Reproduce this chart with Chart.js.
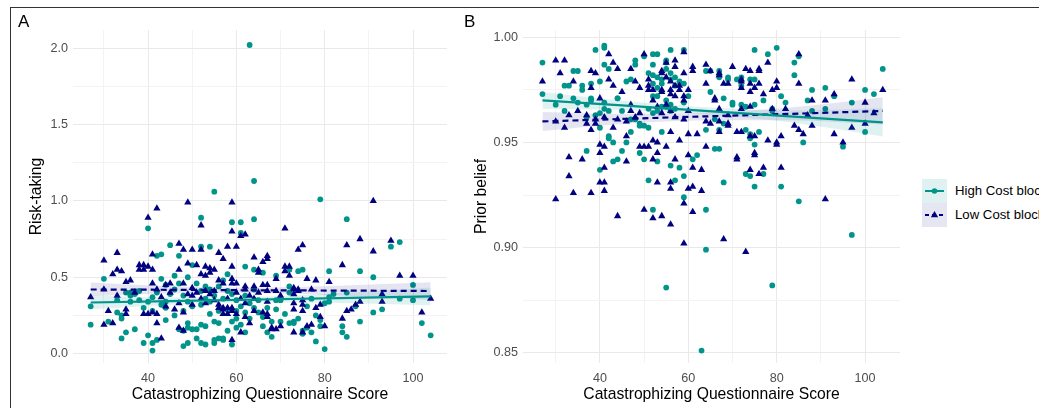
<!DOCTYPE html>
<html>
<head>
<meta charset="utf-8">
<script src="https://cdn.jsdelivr.net/npm/chart.js@4.4.0/dist/chart.umd.min.js"></script>
<style>
  body { margin: 0; background: #fff; width: 1039px; height: 408px; overflow: hidden; position: relative;
         font-family: "Liberation Sans", Arial, sans-serif; }
  #frame { position: absolute; left: 10px; top: 7px; width: 1100px; height: 500px;
           border-top: 1px solid #333; border-left: 1px solid #333; }
  .panel { position: absolute; top: 8px; height: 400px; }
  #pa { left: 11px; width: 449px; }
  #pb { left: 460px; width: 460px; }
  .tag { position: absolute; top: 12px; font-size: 17px; line-height: 20px; color: #000; }
  .key { position: absolute; left: 922px; width: 25px; height: 24px; }
  .lab { position: absolute; left: 955px; font-size: 13.2px; line-height: 24px; color: #000; white-space: nowrap; }
</style>
</head>
<body>
<div id="frame"></div>
<div class="panel" id="pa"><canvas id="chartA"></canvas></div>
<div class="panel" id="pb"><canvas id="chartB"></canvas></div>
<div class="tag" style="left:18px">A</div>
<div class="tag" style="left:464px">B</div>

<div class="key" style="top:179px;background:#e0f1f1">
  <svg width="25" height="24"><line x1="3" y1="12" x2="22" y2="12" stroke="#00948a" stroke-width="2"/><circle cx="12.5" cy="12" r="2.8" fill="#00948a"/></svg>
</div>
<div class="key" style="top:203px;background:#e6e6f2">
  <svg width="25" height="24"><line x1="3" y1="12" x2="22" y2="12" stroke="#000080" stroke-width="2" stroke-dasharray="4,3"/><path d="M12.5 8 L16.2 14.2 L8.8 14.2 Z" fill="#000080"/></svg>
</div>
<div class="lab" style="top:179px">High Cost block</div>
<div class="lab" style="top:203px">Low Cost block</div>

<script>
// ---- tick / grid values ----
const xTickLabels = [40, 60, 80, 100];
const xGrid = [30, 40, 50, 60, 70, 80, 90, 100];
const aYTickLabels = [0, 0.5, 1, 1.5, 2];
const aYGrid = [0, 0.25, 0.5, 0.75, 1, 1.25, 1.5, 1.75, 2];
const bYTickLabels = [0.85, 0.9, 0.95, 1];
const bYGrid = [0.85, 0.875, 0.9, 0.925, 0.95, 0.975, 1];

// ---- panel A: risk-taking, [score, value] ----
const aHigh = [[27,0.31],[27,0.19],[30,0.49],[31,0.21],[33,0.35],[34,0.10],[35,0.14],[35,0.40],[34,0.23],[37,0.16],[36,0.38],[39,0.07],[40,0.82],[40,0.12],[41,0.02],[41,0.07],[42,0.64],[42,0.09],[43,0.65],[43,0.49],[44,0.30],[44,0.22],[45,0.71],[46,0.51],[47,0.64],[47,0.46],[47,0.16],[48,0.05],[49,0.50],[49,0.20],[49,0.07],[50,0.58],[50,0.16],[51,0.10],[52,0.89],[52,0.70],[52,0.07],[53,0.06],[54,0.70],[54,0.42],[55,1.06],[55,0.07],[56,0.10],[56,0.20],[57,0.09],[58,0.29],[59,0.86],[59,0.06],[60,0.17],[61,0.86],[61,0.79],[62,0.57],[62,0.14],[63,2.02],[63,0.23],[64,1.13],[64,0.88],[64,0.55],[65,0.35],[66,0.53],[67,0.14],[68,0.11],[69,0.51],[69,0.29],[70,0.21],[71,0.26],[72,0.55],[72,0.44],[73,0.20],[74,0.23],[75,0.55],[75,0.15],[77,0.14],[78,0.08],[79,1.01],[80,0.03],[81,0.54],[81,0.34],[82,0.39],[84,0.18],[84,0.14],[85,0.88],[85,0.11],[85,0.40],[87,0.31],[88,0.54],[88,0.21],[91,0.50],[91,0.27],[93,0.29],[95,0.70],[97,0.73],[97,0.36],[100,0.45],[100,0.35],[102,0.20],[104,0.12],
  [51,0.46],[52,0.41],[53,0.36],[49,0.34],[52,0.32],[54,0.34],[55,0.38],[58,0.41],[59,0.39],[56,0.28],[55,0.21],[53,0.18],[52,0.19],[51,0.16],[49,0.17],[48,0.15],[58,0.15],[57,0.10],[55,0.09],[61,0.19],[60,0.23],[59,0.21],[48,0.28],[46,0.25],[45,0.39],[43,0.32],[40,0.34],[38,0.35],[37,0.39],[36,0.34],[34,0.25],[33,0.27],[36,0.40],[42,0.40],[44,0.34],
  [74,0.54],[72,0.40],[69,0.35],[67,0.30],[68,0.21],[72,0.20],[73,0.21],[75,0.13],[76,0.17],[79,0.22],[79,0.18],[77,0.36],[78,0.25],[80,0.33],[81,0.37],[76,0.31],[70,0.35],
  [56,0.44],[57,0.48],[58,0.52],[60,0.35],[61,0.31],[62,0.38],[63,0.33],[64,0.42],[65,0.27],[66,0.24],[60,0.28],[57,0.36],[54,0.26],[53,0.44],[50,0.31],[48,0.38],[46,0.42],[44,0.45],[41,0.37],[39,0.30],[38,0.41],[41,0.28],[64,0.30],[66,0.18],[62,0.27]];

const aLow = [[27,0.37],[30,0.61],[30,0.42],[30,0.19],[31,0.28],[32,0.20],[32,0.52],[33,0.66],[33,0.55],[33,0.38],[34,0.54],[35,0.47],[36,0.48],[35,0.29],[35,0.26],[37,0.40],[38,0.58],[38,0.55],[39,0.58],[39,0.55],[39,0.26],[40,0.89],[40,0.57],[40,0.26],[41,0.65],[41,0.55],[41,0.46],[42,0.95],[42,0.42],[42,0.26],[42,0.20],[43,0.10],[44,0.45],[45,0.46],[47,0.72],[47,0.55],[47,0.17],[48,0.68],[48,0.15],[49,0.99],[49,0.59],[50,0.68],[50,0.38],[51,0.58],[51,0.40],[52,0.84],[52,0.68],[52,0.52],[53,0.57],[53,0.51],[54,0.56],[55,0.55],[56,0.66],[56,0.48],[57,0.62],[57,0.30],[58,0.70],[59,0.99],[59,0.80],[59,0.57],[59,0.09],[60,0.70],[60,0.46],[61,0.77],[61,0.14],[62,0.78],[62,0.44],[63,0.20],[64,0.63],[64,0.44],[64,0.28],[65,0.55],[65,0.53],[66,0.60],[66,0.27],[67,0.62],[67,0.45],[67,0.24],[68,0.16],[69,0.16],[69,0.49],[70,0.18],[71,0.82],[71,0.57],[72,0.57],[72,0.51],[73,0.14],[74,0.68],[74,0.42],[75,0.71],[75,0.14],[76,0.49],[76,0.18],[78,0.48],[79,0.24],[80,0.18],[81,0.47],[84,0.58],[84,0.23],[85,0.71],[85,0.28],[86,0.29],[88,0.75],[88,0.34],[91,1.00],[91,0.67],[93,0.34],[95,0.74],[97,0.51],[100,0.51],[102,0.27],[104,0.36],
  [54,0.53],[57,0.46],[59,0.46],[53,0.41],[54,0.39],[55,0.41],[56,0.32],[56,0.30],[57,0.29],[58,0.30],[59,0.30],[59,0.28],[57,0.26],[58,0.26],[43,0.37],[41,0.27],[44,0.31],[46,0.29],[48,0.27],[50,0.32],[49,0.39],[47,0.33],[59,0.49],
  [67,0.64],[71,0.54],[67,0.41],[69,0.41],[73,0.43],[73,0.39],[74,0.41],[73,0.33],[75,0.32],[77,0.42],[79,0.32],[78,0.30],[73,0.29],[75,0.28],[75,0.35],[68,0.17],[77,0.19],[93,0.39],[87,0.32],[67,0.26],[67,0.34],
  [60,0.40],[61,0.36],[62,0.42],[63,0.38],[58,0.36],[55,0.35],[53,0.33],[52,0.36],[50,0.43],[48,0.46],[45,0.40],[62,0.33],[64,0.36],[65,0.40],[66,0.45],[70,0.38],[60,0.26],[62,0.24]];

// ---- panel B: prior belief, [score, value] ----
const bHigh = [[27,0.988],[27,0.973],[30,0.968],[31,0.972],[32,0.977],[33,0.977],[32,0.965],[34,0.984],[35,0.984],[34,0.971],[35,0.969],[36,0.975],[37,0.946],[37,0.968],[38,0.978],[38,0.971],[39,0.994],[39,0.963],[40,0.979],[40,0.937],[40,0.964],[41,0.996],[41,0.995],[41,0.987],[41,0.966],[42,0.985],[42,0.952],[43,0.941],[44,0.971],[44,0.942],[45,0.946],[46,0.950],[46,0.979],[47,0.955],[47,0.980],[48,0.989],[48,0.961],[49,0.945],[49,0.958],[50,0.991],[50,0.942],[50,0.958],[51,0.983],[51,0.932],[52,0.992],[52,0.918],[52,0.978],[53,0.992],[53,0.941],[54,0.955],[55,0.881],[55,0.967],[56,0.994],[56,0.939],[57,0.932],[58,0.938],[59,0.994],[59,0.924],[59,0.934],[61,0.942],[62,0.944],[63,0.851],[64,0.918],[64,0.899],[64,0.984],[64,0.956],[66,0.947],[67,0.984],[68,0.931],[68,0.971],[69,0.980],[70,0.968],[71,0.980],[72,0.977],[73,0.935],[73,0.956],[74,0.980],[74,0.954],[75,0.994],[75,0.929],[75,0.949],[76,0.955],[78,0.992],[79,0.882],[79,0.965],[80,0.995],[81,0.929],[81,0.972],[84,0.988],[84,0.982],[85,0.991],[85,0.922],[86,0.950],[87,0.970],[88,0.975],[88,0.965],[91,0.976],[91,0.966],[95,0.948],[97,0.969],[97,0.906],[100,0.975],[100,0.955],[102,0.973],[104,0.985],
  [52,0.982],[53,0.981],[54,0.980],[55,0.988],[55,0.985],[56,0.983],[56,0.980],[57,0.981],[58,0.979],[59,0.978],[54,0.978],[52,0.972],[53,0.972],[55,0.970],[56,0.968],[57,0.966],[59,0.969],[53,0.965],[51,0.966],[52,0.964],[54,0.967],[56,0.965],[57,0.977],[49,0.959],[51,0.957],[48,0.987],[52,0.987],[55,0.989],[53,0.976],[60,0.972],
  [36,0.977],[38,0.970],[41,0.969],[42,0.965],[44,0.971],[45,0.965],[47,0.961],[37,0.962],[40,0.957],[42,0.953],[43,0.950],
  [65,0.984],[67,0.981],[69,0.981],[72,0.981],[75,0.980],[65,0.974],[70,0.969],[72,0.968],[73,0.967],[75,0.968],[77,0.970],[79,0.966],[82,0.969],[93,0.972],[66,0.961],[68,0.959],[67,0.956],[67,0.947],[74,0.952],[77,0.935],[74,0.934]];

const bLow = [[27,0.979],[30,0.989],[30,0.960],[30,0.923],[32,0.989],[31,0.983],[33,0.943],[33,0.934],[32,0.957],[33,0.963],[34,0.979],[34,0.926],[35,0.965],[36,0.942],[37,0.963],[38,0.984],[38,0.976],[38,0.926],[38,0.956],[39,0.983],[39,0.959],[40,0.971],[40,0.949],[40,0.945],[40,0.931],[41,0.931],[41,0.927],[41,0.938],[41,0.948],[42,0.992],[42,0.980],[43,0.988],[43,0.977],[44,0.985],[44,0.915],[45,0.974],[46,0.953],[46,0.941],[47,0.985],[47,0.965],[48,0.979],[49,0.948],[49,0.976],[50,0.992],[50,0.948],[50,0.918],[51,0.980],[51,0.975],[51,0.948],[52,0.942],[52,0.914],[52,0.951],[53,0.931],[53,0.945],[53,0.950],[54,0.984],[54,0.915],[54,0.974],[55,0.948],[55,0.988],[56,0.931],[56,0.928],[56,0.911],[56,0.955],[57,0.989],[57,0.942],[58,0.951],[58,0.977],[59,0.993],[59,0.921],[59,0.902],[60,0.954],[60,0.928],[60,0.944],[61,0.938],[61,0.929],[61,0.917],[61,0.986],[62,0.954],[63,0.937],[63,0.927],[64,0.948],[64,0.987],[65,0.959],[65,0.984],[66,0.970],[67,0.982],[67,0.955],[67,0.960],[68,0.904],[69,0.978],[69,0.958],[70,0.986],[71,0.943],[71,0.955],[72,0.955],[72,0.980],[73,0.898],[73,0.985],[74,0.937],[74,0.984],[75,0.944],[75,0.953],[76,0.935],[76,0.985],[77,0.938],[77,0.973],[78,0.988],[78,0.951],[79,0.975],[80,0.979],[80,0.949],[81,0.938],[81,0.953],[82,0.966],[84,0.958],[85,0.992],[85,0.978],[85,0.956],[86,0.954],[87,0.963],[88,0.970],[88,0.958],[91,0.970],[91,0.923],[93,0.973],[93,0.954],[95,0.950],[97,0.980],[97,0.957],[100,0.969],[100,0.959],[102,0.964],[104,0.975],
  [54,0.983],[55,0.981],[56,0.979],[57,0.977],[58,0.975],[59,0.972],[54,0.975],[56,0.973],[56,0.975],[57,0.972],[59,0.970],[55,0.968],[56,0.965],[57,0.962],[59,0.961],[52,0.970],[51,0.977],[52,0.975],[53,0.967],[54,0.964],[57,0.986],[59,0.983],[61,0.984],[60,0.975],[60,0.965],
  [39,0.961],[41,0.962],[43,0.957],[44,0.961],[46,0.960],[48,0.962],[49,0.964],[47,0.968],[37,0.959],
  [64,0.978],[67,0.983],[68,0.978],[72,0.979],[72,0.976],[74,0.978],[75,0.976],[76,0.984],[76,0.978],[74,0.974],[66,0.971],[67,0.966],[69,0.963],[72,0.966],[74,0.967],[79,0.966],[80,0.976],[69,0.959],[64,0.960],[74,0.953],[80,0.950],[71,0.942],[75,0.945]];

// ---- linear fits with 95% bands ----
const fitX = [27, 45, 62, 83, 104];
const aHighFit = [0.335, 0.344, 0.353, 0.364, 0.375];
const aHighLo  = [0.290, 0.320, 0.335, 0.332, 0.317];
const aHighUp  = [0.380, 0.368, 0.371, 0.396, 0.433];
const aLowFit  = [0.420, 0.418, 0.415, 0.413, 0.410];
const aLowLo   = [0.375, 0.394, 0.397, 0.381, 0.352];
const aLowUp   = [0.465, 0.442, 0.433, 0.445, 0.468];
const bHighFit = [0.9700, 0.9676, 0.9653, 0.9624, 0.9596];
const bHighLo  = [0.9660, 0.9654, 0.9636, 0.9596, 0.9528];
const bHighUp  = [0.9740, 0.9698, 0.9670, 0.9652, 0.9664];
const bLowFit  = [0.9600, 0.9612, 0.9623, 0.9636, 0.9650];
const bLowLo   = [0.9555, 0.9588, 0.9605, 0.9606, 0.9585];
const bLowUp   = [0.9645, 0.9636, 0.9641, 0.9666, 0.9715];

const TEAL = '#00948a';
const NAVY = '#000080';
const TEAL_BAND = 'rgba(0,139,139,0.12)';
const NAVY_BAND = 'rgba(0,0,128,0.10)';

Chart.defaults.font.family = '"Liberation Sans", Arial, sans-serif';
Chart.defaults.animation = false;

function pts(arr) { return arr.map(p => ({ x: p[0], y: p[1] })); }
function curve(ys) { return fitX.map((x, i) => ({ x: x, y: ys[i] })); }

function edge(ys, fill, color) {
  return { type: 'line', data: curve(ys), borderWidth: 0, pointRadius: 0, fill: fill,
           backgroundColor: color, cubicInterpolationMode: 'monotone', order: 2 };
}

function build(id, c) {
  const isMajorX = v => xTickLabels.includes(v);
  const isMajorY = v => c.yLabels.some(t => Math.abs(t - v) < 1e-9);
  new Chart(document.getElementById(id), {
    type: 'scatter',
    data: {
      datasets: [
        edge(c.highUp, '+1', TEAL_BAND),
        edge(c.highLo, false, TEAL_BAND),
        edge(c.lowUp, '+1', NAVY_BAND),
        edge(c.lowLo, false, NAVY_BAND),
        { type: 'line', data: curve(c.highFit), borderColor: TEAL, borderWidth: 2.2, pointRadius: 0, fill: false, order: 1 },
        { type: 'line', data: curve(c.lowFit), borderColor: NAVY, borderWidth: 2.2, borderDash: [6, 4], pointRadius: 0, fill: false, order: 1 },
        { data: pts(c.high), pointStyle: 'circle', pointRadius: 2.9, backgroundColor: TEAL, borderWidth: 0, order: 4 },
        { data: pts(c.low), pointStyle: 'triangle', pointRadius: 4.2, backgroundColor: NAVY, borderWidth: 0, order: 3 }
      ]
    },
    options: {
      responsive: true,
      maintainAspectRatio: false,
      layout: { padding: { left: c.padLeft, top: 22, right: c.padRight, bottom: 0 } },
      plugins: { legend: { display: false }, tooltip: { enabled: false } },
      scales: {
        x: {
          type: 'linear', min: c.xMin, max: c.xMax,
          afterBuildTicks: s => { s.ticks = xGrid.map(v => ({ value: v })); },
          afterFit: s => { s.height = 45; },
          border: { display: false },
          grid: { drawTicks: false, color: ctx => isMajorX(ctx.tick.value) ? '#e9e9e9' : '#f3f3f3' },
          ticks: { autoSkip: false, maxRotation: 0, padding: 8, color: '#4d4d4d', font: { size: 12.6 },
                   callback: v => isMajorX(v) ? String(v) : '' },
          title: { display: true, text: 'Catastrophizing Questionnaire Score', color: '#000',
                   font: { size: 15.7 }, padding: { top: 4, bottom: 4 } }
        },
        y: {
          type: 'linear', min: c.yMin, max: c.yMax,
          afterBuildTicks: s => { s.ticks = c.yGrid.map(v => ({ value: v })); },
          afterFit: s => { s.width = c.yWidth; },
          border: { display: false },
          grid: { drawTicks: false, color: ctx => isMajorY(ctx.tick.value) ? '#e9e9e9' : '#f3f3f3' },
          ticks: { autoSkip: false, padding: 5, color: '#4d4d4d', font: { size: 12.6 },
                   callback: v => isMajorY(v) ? v.toFixed(c.digits) : '' },
          title: { display: true, text: c.yTitle, color: '#000', font: { size: 15.7 }, padding: { top: 4, bottom: 4 } }
        }
      }
    }
  });
}

build('chartA', {
  high: aHigh, low: aLow,
  highFit: aHighFit, highLo: aHighLo, highUp: aHighUp,
  lowFit: aLowFit, lowLo: aLowLo, lowUp: aLowUp,
  xMin: 23.0, xMax: 107.7, yMin: -0.061, yMax: 2.118,
  yGrid: aYGrid, yLabels: aYTickLabels, digits: 1,
  yTitle: 'Risk-taking', padLeft: 12, padRight: 13, yWidth: 50
});

build('chartB', {
  high: bHigh, low: bLow,
  highFit: bHighFit, highLo: bHighLo, highUp: bHighUp,
  lowFit: bLowFit, lowLo: bLowLo, lowUp: bLowUp,
  xMin: 22.6, xMax: 107.9, yMin: 0.8451, yMax: 1.0035,
  yGrid: bYGrid, yLabels: bYTickLabels, digits: 2,
  yTitle: 'Prior belief', padLeft: 8, padRight: 20, yWidth: 55
});
</script>
</body>
</html>
